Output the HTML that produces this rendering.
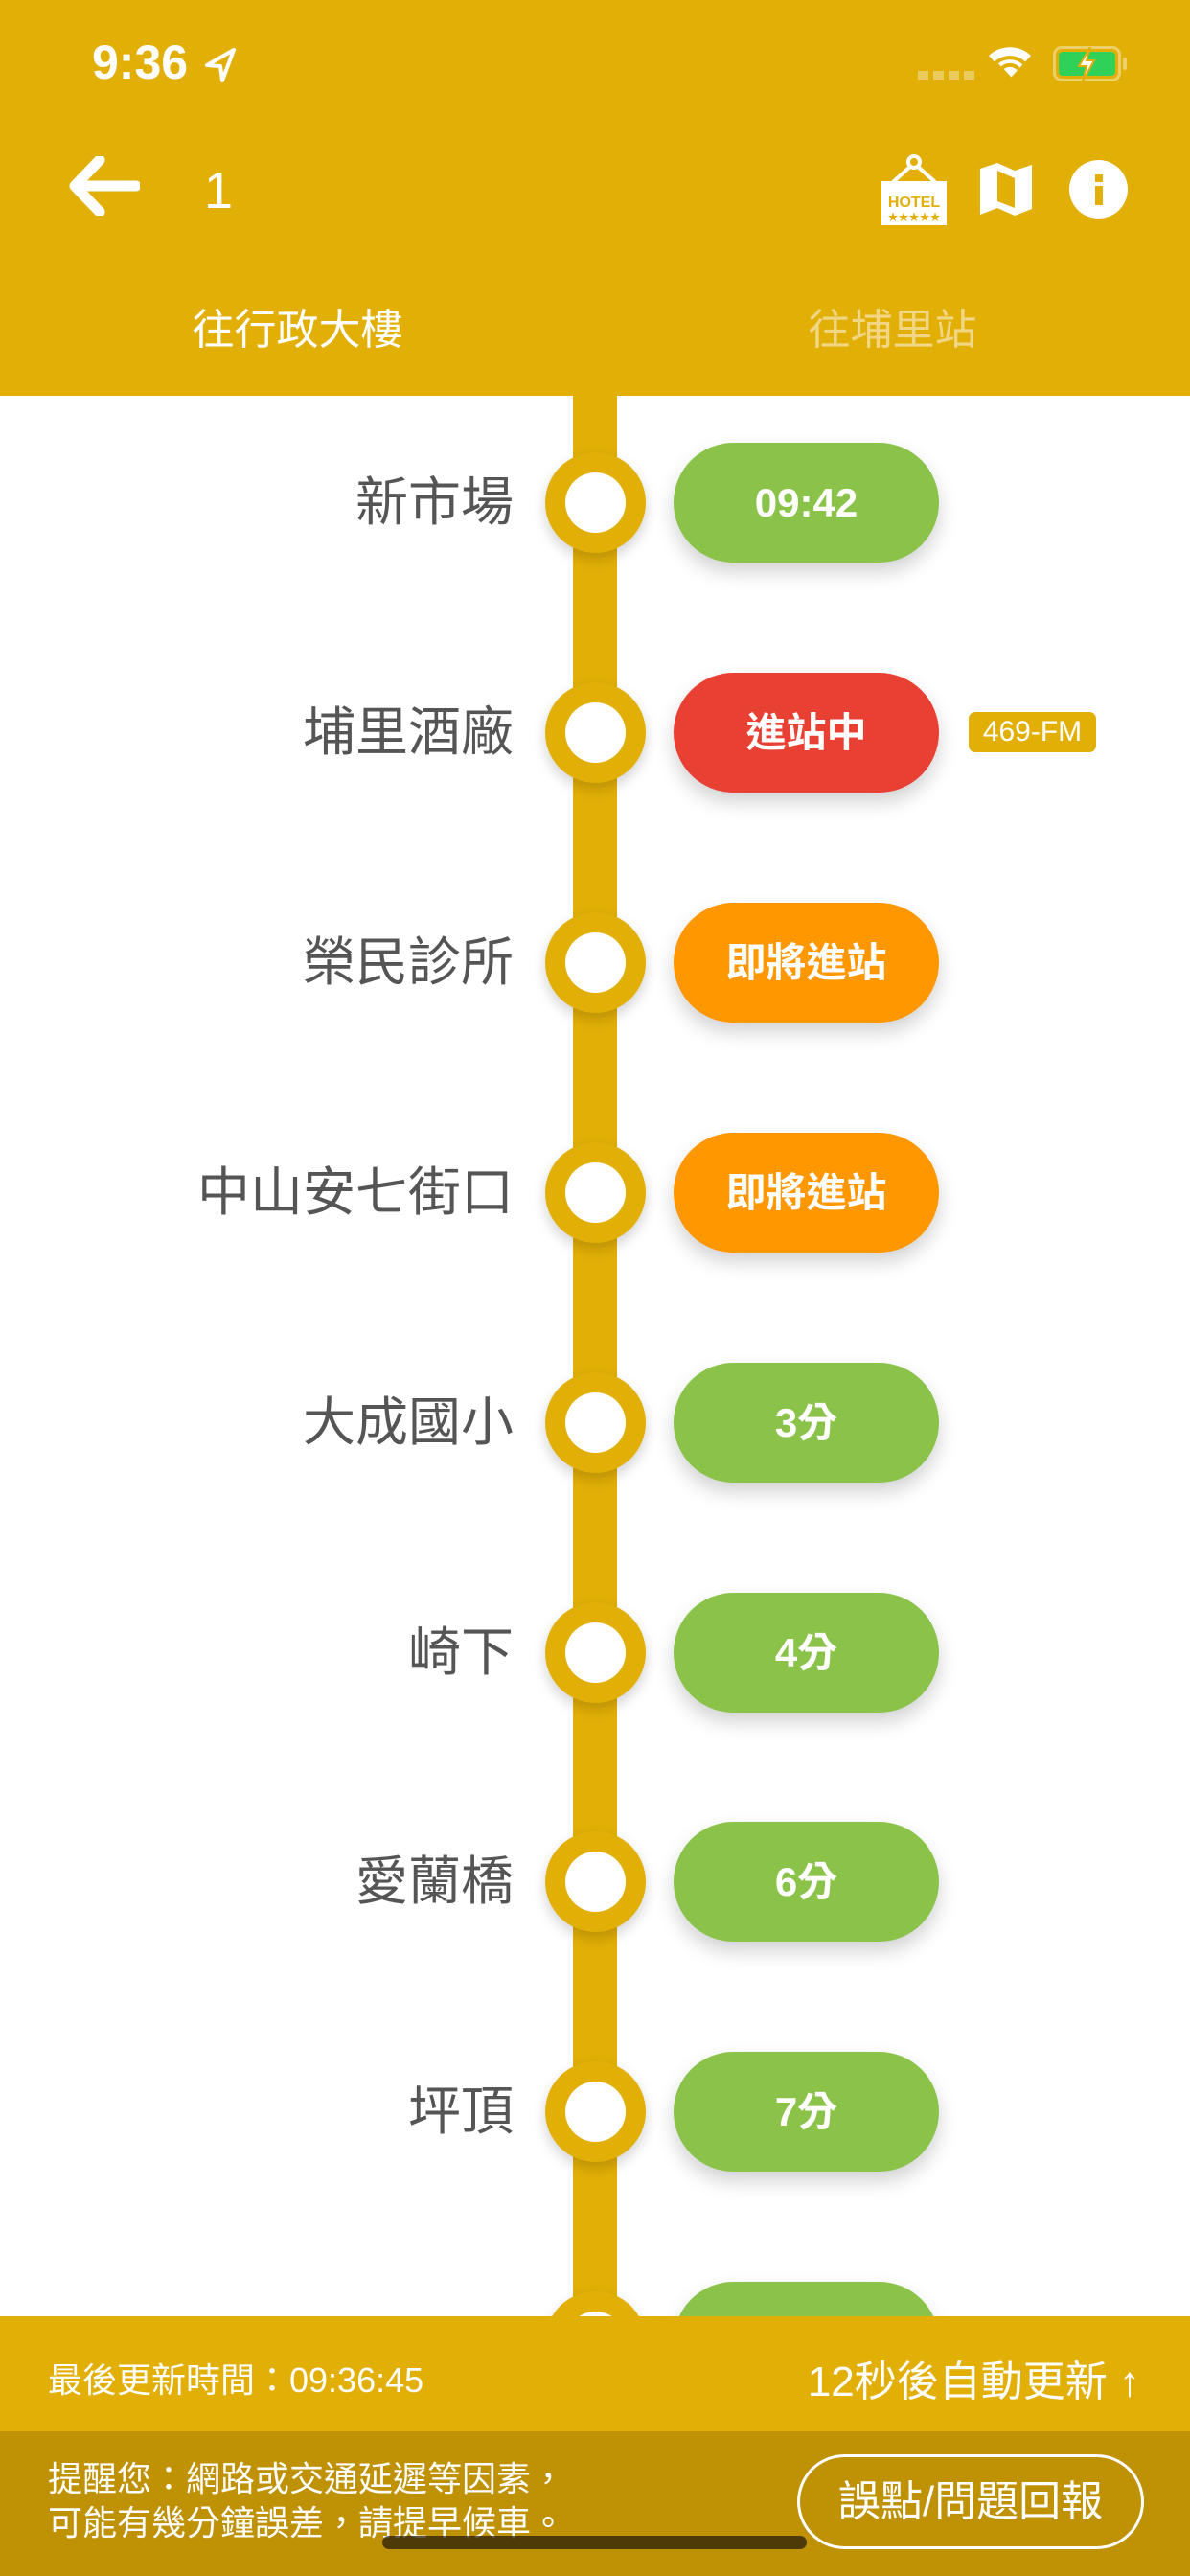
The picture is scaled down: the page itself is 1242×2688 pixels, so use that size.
<!DOCTYPE html>
<html><head><meta charset="utf-8"><style>
*{margin:0;padding:0;box-sizing:border-box}
body{width:1242px;height:2688px;position:relative;overflow:hidden;background:#fff;font-family:"Liberation Sans","Noto Sans CJK TC",sans-serif}
.a{position:absolute}
.hdr{left:0;top:0;width:1242px;height:413px;background:#E2AF07}
.line{left:598px;top:413px;width:46px;height:2100px;background:#E2AF07}
.st{right:706px;font-size:55px;color:#555;width:500px;text-align:right;line-height:60px}
.dot{left:569px;width:105px;height:105px;border-radius:50%;background:#E2AF07;box-shadow:0 6px 14px rgba(0,0,0,.18)}
.dot:after{content:"";position:absolute;left:21px;top:21px;width:63px;height:63px;border-radius:50%;background:#fff}
.pill{left:703px;width:277px;height:125px;border-radius:63px;color:#fff;font-weight:bold;font-size:42px;text-align:center;line-height:125px;box-shadow:0 10px 20px rgba(0,0,0,.18)}
.g{background:#8BC34A}.r{background:#E94034}.o{background:#FF9800}
</style></head><body>
<div class="a hdr"></div>
<div class="a" style="left:96px;top:36px;font-size:50px;color:#fff;font-weight:bold">9:36</div>
<svg class="a" style="left:212px;top:48px" width="36" height="40"><path d="M32 4 L4 20 L18 21 L20 36 Z" fill="none" stroke="#fff" stroke-width="4" stroke-linejoin="round"/></svg>
<div class="a" style="left:958px;top:74px;width:60px;height:9px;background:repeating-linear-gradient(90deg,rgba(255,255,255,.35) 0 11px,transparent 11px 16px)"></div>
<svg class="a" style="left:1030px;top:44px" width="48" height="40"><path d="M24 38 L2 14 A32 32 0 0 1 46 14 Z" fill="#fff"/><path d="M24 38 L9 22 A22 22 0 0 1 39 22" fill="none" stroke="#E2AF07" stroke-width="4"/><path d="M24 38 L15 28 A12 12 0 0 1 33 28" fill="none" stroke="#E2AF07" stroke-width="4"/></svg>
<div class="a" style="left:1099px;top:48px;width:71px;height:37px;border:3px solid rgba(255,255,255,.4);border-radius:9px;padding:3px"><div style="width:100%;height:100%;background:#30D158;border-radius:4px"></div></div>
<div class="a" style="left:1172px;top:60px;width:4px;height:13px;background:rgba(255,255,255,.4);border-radius:2px"></div>
<svg class="a" style="left:1120px;top:49px" width="28" height="36"><path d="M18 0 L6 20 L14 20 L10 36 L22 14 L14 14 Z" fill="#fff" stroke="#E2AF07" stroke-width="2"/></svg>
<svg class="a" style="left:70px;top:163px" width="76" height="62"><path d="M34 4 L8 31 L34 58 M8 31 L72 31" fill="none" stroke="#fff" stroke-width="11" stroke-linecap="round" stroke-linejoin="round"/></svg>
<div class="a" style="left:213px;top:168px;font-size:54px;color:#fff">1</div>
<svg class="a" style="left:918px;top:160px" width="72" height="76"><circle cx="36" cy="9" r="6" fill="none" stroke="#fff" stroke-width="4"/><path d="M33 13 L14 30 M39 13 L58 30" stroke="#fff" stroke-width="4"/><rect x="2" y="29" width="68" height="46" fill="#fff"/><text x="36" y="56" font-size="16" font-weight="bold" fill="#E2AF07" text-anchor="middle" font-family="Liberation Sans">HOTEL</text><text x="36" y="70" font-size="11" fill="#E2AF07" text-anchor="middle">★★★★★</text></svg>
<svg class="a" style="left:1022px;top:170px" width="56" height="56"><path d="M1 6 L19 0 L37 8 L55 2 L55 48 L37 55 L19 47 L1 54 Z" fill="#fff"/><path d="M19 8 L19 40 L37 47 L37 16 Z" fill="#E2AF07"/></svg>
<div class="a" style="left:1116px;top:167px;width:61px;height:61px;border-radius:50%;background:#fff"></div>
<div class="a" style="left:1143px;top:182px;width:8px;height:8px;background:#E2AF07"></div>
<div class="a" style="left:1143px;top:194px;width:8px;height:20px;background:#E2AF07"></div>
<div class="a" style="left:0;top:308px;width:621px;text-align:center;font-size:44px;color:#fff">往行政大樓</div>
<div class="a" style="left:621px;top:308px;width:621px;text-align:center;font-size:44px;color:rgba(255,255,255,.5)">往埔里站</div>

<div class="a line"></div>

<div class="a st" style="top:494px">新市場</div><div class="a dot" style="top:472px"></div><div class="a pill g" style="top:462px">09:42</div>
<div class="a st" style="top:734px">埔里酒廠</div><div class="a dot" style="top:712px"></div><div class="a pill r" style="top:702px">進站中</div>
<div class="a" style="left:1011px;top:743px;width:133px;height:42px;background:#E2AF07;border-radius:7px;color:#fff;font-size:30px;text-align:center;line-height:42px">469-FM</div>
<div class="a st" style="top:974px">榮民診所</div><div class="a dot" style="top:952px"></div><div class="a pill o" style="top:942px">即將進站</div>
<div class="a st" style="top:1214px">中山安七街口</div><div class="a dot" style="top:1192px"></div><div class="a pill o" style="top:1182px">即將進站</div>
<div class="a st" style="top:1454px">大成國小</div><div class="a dot" style="top:1432px"></div><div class="a pill g" style="top:1422px">3分</div>
<div class="a st" style="top:1694px">崎下</div><div class="a dot" style="top:1672px"></div><div class="a pill g" style="top:1662px">4分</div>
<div class="a st" style="top:1933px">愛蘭橋</div><div class="a dot" style="top:1911px"></div><div class="a pill g" style="top:1901px">6分</div>
<div class="a st" style="top:2173px">坪頂</div><div class="a dot" style="top:2151px"></div><div class="a pill g" style="top:2141px">7分</div>
<div class="a dot" style="top:2391px"></div><div class="a pill g" style="top:2381px"></div>

<div class="a" style="left:0;top:2417px;width:1242px;height:120px;background:#E2AF07"></div>
<div class="a" style="left:50px;top:2455px;font-size:36px;color:#fff">最後更新時間：09:36:45</div>
<div class="a" style="right:52px;top:2449px;font-size:44px;color:#fff">12秒後自動更新 ↑</div>
<div class="a" style="left:0;top:2537px;width:1242px;height:151px;background:#BF9104"></div>
<div class="a" style="left:50px;top:2564px;font-size:36px;color:#fff;line-height:46px">提醒您：網路或交通延遲等因素，<br>可能有幾分鐘誤差，請提早候車。</div>
<div class="a" style="left:832px;top:2561px;width:362px;height:99px;border:3px solid #fff;border-radius:50px;color:#fff;font-size:44px;text-align:center;line-height:93px">誤點/問題回報</div>
<div class="a" style="left:399px;top:2646px;width:443px;height:14px;background:rgba(40,30,10,.75);border-radius:7px"></div>
</body></html>
